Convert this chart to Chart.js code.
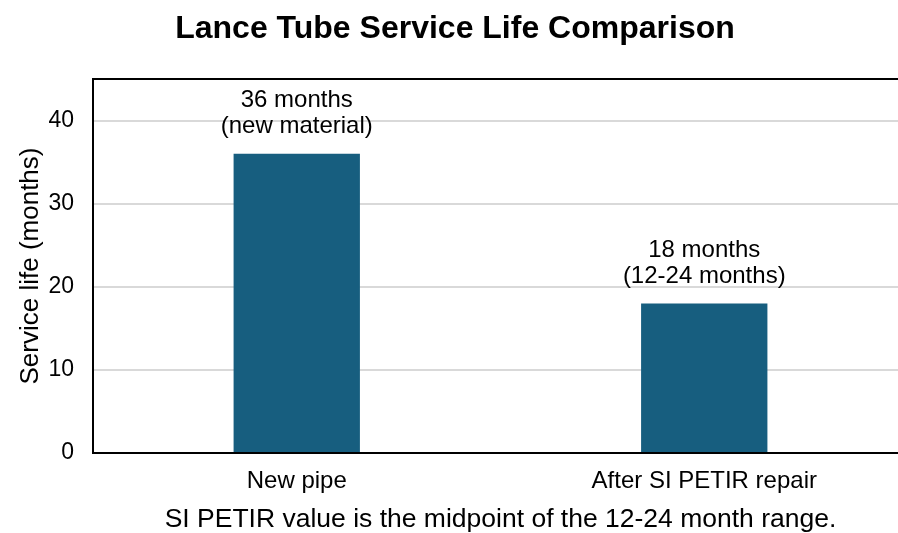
<!DOCTYPE html>
<html>
<head>
<meta charset="utf-8">
<script src="https://cdn.jsdelivr.net/npm/chart.js@4.4.1/dist/chart.umd.min.js"></script>
<style>
  html, body { margin: 0; padding: 0; background: #ffffff; }
  #wrap { width: 898px; height: 533px; }
</style>
</head>
<body>
<div id="wrap"><canvas id="c" width="898" height="533"></canvas></div>
<script>
const categories = ["New pipe", "After SI PETIR repair"];
const serviceLife = [36, 18];
const barLabelLines = [["36 months", "(new material)"], ["18 months", "(12-24 months)"]];
const yTicks = [0, 10, 20, 30, 40];
const chartTitle = "Lance Tube Service Life Comparison";
const yTitle = "Service life (months)";
const footnote = "SI PETIR value is the midpoint of the 12-24 month range.";

const FONT = "'Liberation Sans', Arial, sans-serif";

// The reference plot area runs slightly past the right edge of the image.
const PLOT_RIGHT = 908;

const frameAndLabels = {
  id: 'frameAndLabels',
  afterLayout(chart) {
    const xs = chart.scales.x;
    chart.chartArea.right = PLOT_RIGHT;
    chart.chartArea.width = PLOT_RIGHT - chart.chartArea.left;
    xs.right = PLOT_RIGHT;
    xs.width = PLOT_RIGHT - xs.left;
    xs.configure();
  },
  afterDatasetsDraw(chart) {
    const ctx = chart.ctx;
    const meta = chart.getDatasetMeta(0);
    ctx.save();
    ctx.fillStyle = '#000000';
    ctx.font = '24px ' + FONT;
    ctx.textAlign = 'center';
    ctx.textBaseline = 'middle';
    meta.data.forEach((bar, i) => {
      const lines = barLabelLines[i];
      const n = lines.length;
      lines.forEach((t, j) => {
        ctx.fillText(t, bar.x, bar.y - 27 - (n - 1 - j) * 26);
      });
    });
    ctx.restore();
  },
  afterDraw(chart) {
    const ctx = chart.ctx;
    const a = chart.chartArea;
    ctx.save();
    ctx.strokeStyle = '#000000';
    ctx.lineWidth = 2;
    ctx.beginPath();
    ctx.moveTo(a.left - 1, a.top);
    ctx.lineTo(a.right + 20, a.top);
    ctx.stroke();
    ctx.restore();
  }
};

new Chart(document.getElementById('c'), {
  type: 'bar',
  data: {
    labels: categories,
    datasets: [{
      data: serviceLife,
      backgroundColor: '#175e7f',
      borderWidth: 0,
      categoryPercentage: 1.0,
      barPercentage: 0.31
    }]
  },
  options: {
    responsive: false,
    animation: false,
    events: [],
    layout: { padding: { left: 12, right: 0, top: 0, bottom: 0 } },
    plugins: {
      legend: { display: false },
      tooltip: { enabled: false },
      title: {
        display: true,
        text: chartTitle,
        color: '#000000',
        font: { family: FONT, size: 32, weight: 'bold', lineHeight: 1.2 },
        padding: { top: 10, bottom: 30.6 }
      }
    },
    scales: {
      x: {
        grid: { display: false, drawTicks: false },
        border: { display: true, color: '#000000', width: 2 },
        ticks: { color: '#000000', font: { family: FONT, size: 24 }, padding: 14, maxRotation: 0 },
        title: {
          display: true,
          text: footnote,
          color: '#000000',
          font: { family: FONT, size: 26.5, lineHeight: 1 },
          padding: { top: 0, bottom: 0 }
        },
        afterFit(scale) { scale.height = 80; }
      },
      y: {
        min: 0,
        max: 45,
        afterBuildTicks(scale) { scale.ticks = yTicks.map(v => ({ value: v })); },
        grid: { color: '#d9d9d9', lineWidth: 2, drawTicks: false },
        border: { display: true, color: '#000000', width: 2 },
        ticks: { color: '#000000', font: { family: FONT, size: 23 }, padding: 19 },
        title: {
          display: true,
          text: yTitle,
          color: '#000000',
          font: { family: FONT, size: 26, lineHeight: 1.2 },
          padding: { top: 3, bottom: 0 }
        },
        afterFit(scale) { scale.width = 81; }
      }
    }
  },
  plugins: [frameAndLabels]
});
</script>
</body>
</html>
